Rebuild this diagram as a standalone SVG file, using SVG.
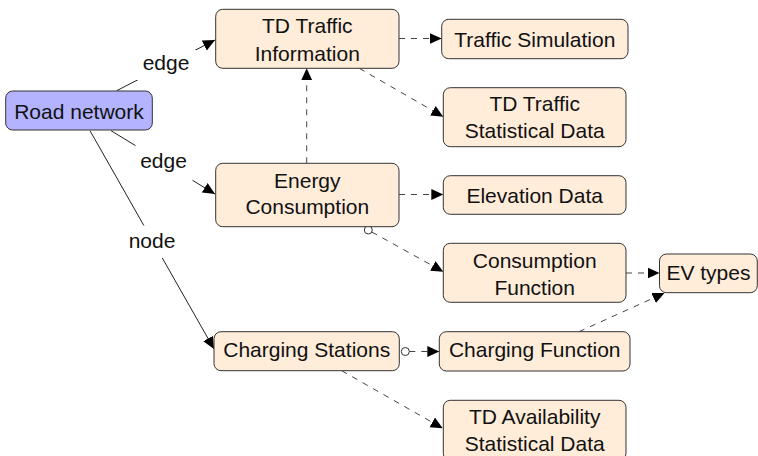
<svg xmlns="http://www.w3.org/2000/svg" width="758" height="456" viewBox="0 0 758 456">
<defs>
<marker id="arr" markerUnits="userSpaceOnUse" markerWidth="13" markerHeight="12" refX="12" refY="5.5" orient="auto">
<path d="M0,0 L12,5.5 L0,11 z" fill="#000" stroke="none"/>
</marker>
</defs>
<style>
.box{fill:#ffecd9;stroke:#333;stroke-width:1}
.road{fill:#b3b3ff;stroke:#333;stroke-width:1}
.t{font-family:"Liberation Sans",Arial,sans-serif;font-size:21px;text-anchor:middle;fill:#111}
.solid{fill:none;stroke:#222;stroke-width:1;marker-end:url(#arr)}
.dash{fill:none;stroke:#444;stroke-width:1;stroke-dasharray:6 6;marker-end:url(#arr)}
.circ{fill:#fff;stroke:#333;stroke-width:1}
.lbg{fill:#fff;stroke:none}
</style>
<rect width="758" height="456" fill="#fff"/>
<g id="connectors">
<path class="solid" d="M116.7,90.7 L215,40"/>
<path class="solid" d="M111,130.7 L215,194"/>
<path class="solid" d="M90,130.7 L214,349"/>
<path class="dash" d="M399,38.5 L441.7,38.5"/>
<path class="dash" d="M359.3,68.3 L443.3,116.7"/>
<path class="dash" d="M306.7,163.3 L306.7,68.3"/>
<path class="dash" d="M399,194.5 L443.3,194.5"/>
<path class="dash" d="M371.8,232 L443.3,271.7"/>
<circle class="circ" cx="368.3" cy="230" r="4"/>
<path class="dash" d="M626,273 L659.5,273"/>
<path class="dash" d="M579,331.7 L664.5,293"/>
<path class="dash" d="M409.3,351.5 L439.3,351.5"/>
<circle class="circ" cx="405.3" cy="351.5" r="4"/>
<path class="dash" d="M341.7,370.7 L442.7,428.3"/>
</g>
<g id="labels">
<rect class="lbg" x="137" y="50" width="59" height="30"/>
<text class="t" x="166" y="70">edge</text>
<rect class="lbg" x="135.5" y="145" width="57" height="36.5"/>
<text class="t" x="163.5" y="168">edge</text>
<rect class="lbg" x="128" y="225.5" width="48" height="32.5"/>
<text class="t" x="152" y="248">node</text>
</g>
<g id="road-network">
<rect class="road" x="5.7" y="91" width="146.6" height="39" rx="7"/>
<text class="t" x="79" y="119">Road network</text>
</g>
<g id="td-traffic-information">
<rect class="box" x="215.7" y="9.3" width="183.3" height="59" rx="7"/>
<text class="t" x="307.3" y="33.3">TD Traffic</text>
<text class="t" x="307.3" y="60.8">Information</text>
</g>
<g id="energy-consumption">
<rect class="box" x="215.7" y="163.3" width="183.3" height="63.4" rx="7"/>
<text class="t" x="307.3" y="187.5">Energy</text>
<text class="t" x="307.3" y="214.3">Consumption</text>
</g>
<g id="charging-stations">
<rect class="box" x="214" y="331.7" width="185.3" height="39" rx="7"/>
<text class="t" x="306.7" y="357">Charging Stations</text>
</g>
<g id="traffic-simulation">
<rect class="box" x="441.7" y="19.3" width="186.3" height="39.4" rx="7"/>
<text class="t" x="534.8" y="47.3">Traffic Simulation</text>
</g>
<g id="td-traffic-statistical-data">
<rect class="box" x="443.3" y="87.7" width="182.7" height="59" rx="7"/>
<text class="t" x="534.7" y="110.7">TD Traffic</text>
<text class="t" x="534.7" y="138.3">Statistical Data</text>
</g>
<g id="elevation-data">
<rect class="box" x="443.3" y="175.7" width="182.7" height="38.6" rx="7"/>
<text class="t" x="534.7" y="202.7">Elevation Data</text>
</g>
<g id="consumption-function">
<rect class="box" x="443.3" y="243.3" width="182.7" height="59" rx="7"/>
<text class="t" x="534.7" y="268.3">Consumption</text>
<text class="t" x="534.7" y="295">Function</text>
</g>
<g id="ev-types">
<rect class="box" x="659.5" y="254" width="97.8" height="38.7" rx="7"/>
<text class="t" x="708.4" y="280">EV types</text>
</g>
<g id="charging-function">
<rect class="box" x="439.3" y="331.7" width="190.7" height="39.3" rx="7"/>
<text class="t" x="534.7" y="357">Charging Function</text>
</g>
<g id="td-availability-statistical-data">
<rect class="box" x="443.3" y="400.3" width="182.7" height="60" rx="7"/>
<text class="t" x="534.7" y="424">TD Availability</text>
<text class="t" x="534.7" y="450.5">Statistical Data</text>
</g>
</svg>
